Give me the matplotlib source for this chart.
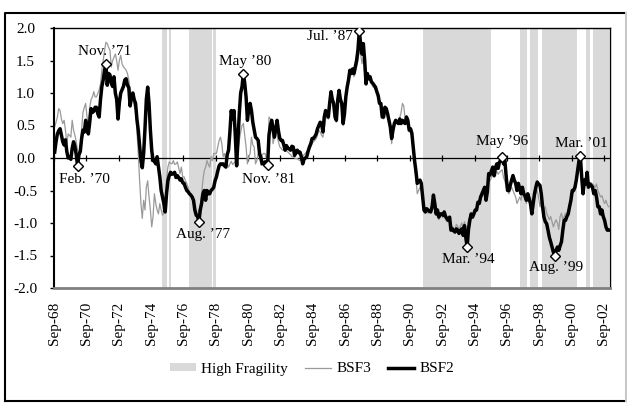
import numpy as np
import pandas as pd
import matplotlib
matplotlib.use('Agg')
import matplotlib.pyplot as plt
from matplotlib.patches import Patch
from matplotlib.lines import Line2D

plt.rcParams['font.family'] = 'serif'
plt.rcParams['font.serif'] = ['Liberation Serif', 'DejaVu Serif']
plt.rcParams['axes.unicode_minus'] = False

# monthly index values, first month Sep-68 (one row = Sep..Aug)
start = '1968-09'
bsf2 = [
    0.09, 0.25, 0.37, 0.42, 0.45, 0.35, 0.25, 0.20, 0.28, 0.10, 0.00, 0.02,
    -0.02, 0.15, 0.25, 0.18, 0.05, -0.12, 0.05, 0.10, 0.30, 0.43, 0.40, 0.58,
    0.45, 0.37, 0.55, 0.76, 0.70, 0.72, 0.78, 0.78, 0.68, 0.63, 0.90, 1.10,
    1.20, 1.35, 1.44, 1.12, 1.30, 1.28, 1.15, 1.10, 1.25, 1.00, 0.90, 0.60,
    0.85, 1.00, 1.05, 1.10, 1.20, 1.22, 1.12, 1.08, 0.80, 0.95, 1.00, 0.90,
    0.84, 0.60, 0.43, 0.20, -0.04, -0.15, 0.07, 0.45, 0.90, 1.09, 0.84, 0.43,
    0.12, -0.04, -0.05, -0.09, 0.02, -0.14, -0.29, -0.50, -0.60, -0.70, -0.83, -0.55,
    -0.35, -0.27, -0.22, -0.25, -0.24, -0.22, -0.30, -0.27, -0.30, -0.34, -0.32, -0.38,
    -0.39, -0.45, -0.50, -0.52, -0.55, -0.57, -0.60, -0.65, -0.80, -0.88, -0.90, -0.98,
    -0.80, -0.70, -0.55, -0.50, -0.65, -0.50, -0.55, -0.55, -0.50, -0.48, -0.45, -0.35,
    -0.29, -0.20, -0.12, -0.09, -0.10, -0.09, -0.12, -0.14, 0.05, 0.12, 0.40, 0.73,
    0.60, 0.73, 0.35, -0.12, 0.30, 0.70, 1.00, 1.10, 1.30, 1.15, 0.94, 0.58,
    0.75, 0.84, 0.73, 0.55, 0.43, 0.32, 0.30, 0.27, 0.07, 0.00, -0.09, -0.08,
    -0.06, -0.06, -0.10, 0.35, 0.50, 0.58, 0.45, 0.32, 0.45, 0.58, 0.42, 0.30,
    0.27, 0.27, 0.20, 0.12, 0.19, 0.15, 0.14, 0.12, 0.18, 0.17, 0.04, 0.10,
    0.12, 0.08, 0.09, 0.02, -0.09, -0.02, 0.00, 0.02, 0.10, 0.17, 0.22, 0.30,
    0.30, 0.33, 0.37, 0.45, 0.50, 0.55, 0.53, 0.40, 0.63, 0.73, 0.68, 0.63,
    0.84, 1.02, 0.90, 0.84, 0.63, 0.58, 0.89, 1.04, 0.90, 0.84, 0.53, 0.68,
    0.94, 1.09, 1.20, 1.35, 1.30, 1.37, 1.30, 1.40, 1.50, 1.66, 1.95, 1.76,
    1.60, 1.76, 1.50, 1.14, 1.30, 1.22, 1.25, 1.17, 1.15, 1.12, 1.09, 1.02,
    0.96, 0.84, 0.84, 0.63, 0.63, 0.78, 0.76, 0.68, 0.58, 0.48, 0.30, 0.43,
    0.53, 0.58, 0.55, 0.53, 0.60, 0.53, 0.58, 0.55, 0.53, 0.63, 0.58, 0.43,
    0.45, 0.38, 0.17, -0.04, -0.20, -0.39, -0.36, -0.34, -0.39, -0.60, -0.80, -0.83,
    -0.78, -0.80, -0.82, -0.83, -0.75, -0.57, -0.70, -0.86, -0.80, -0.91, -0.86, -0.86,
    -0.88, -0.83, -0.90, -0.93, -0.96, -0.91, -1.11, -1.09, -1.12, -1.14, -1.09, -1.11,
    -1.16, -1.12, -1.09, -1.19, -1.04, -1.22, -1.37, -1.10, -0.96, -0.86, -0.91, -0.86,
    -0.80, -0.80, -0.68, -0.70, -0.60, -0.55, -0.50, -0.45, -0.65, -0.52, -0.24, -0.26,
    -0.20, -0.14, -0.27, -0.15, -0.09, -0.16, -0.06, -0.04, 0.02, -0.09, -0.04, -0.29,
    -0.50, -0.50, -0.42, -0.34, -0.27, -0.34, -0.39, -0.50, -0.39, -0.47, -0.55, -0.45,
    -0.55, -0.58, -0.65, -0.55, -0.63, -0.70, -0.86, -0.70, -0.55, -0.45, -0.37, -0.40,
    -0.42, -0.55, -0.75, -0.91, -0.98, -1.01, -1.11, -1.22, -1.29, -1.37, -1.45, -1.50,
    -1.42, -1.37, -1.42, -1.35, -1.29, -1.11, -0.96, -0.96, -0.90, -0.86, -0.75, -0.65,
    -0.50, -0.50, -0.45, -0.34, -0.19, -0.04, 0.03, -0.29, -0.55, -0.34, -0.40, -0.22,
    -0.45, -0.40, -0.42, -0.45, -0.55, -0.50, -0.60, -0.75, -0.75, -0.86, -0.80, -0.90,
    -0.96, -1.06, -1.11, -1.11,
]
bsf3 = [
    0.48, 0.55, 0.63, 0.76, 0.73, 0.60, 0.53, 0.58, 0.43, 0.22, 0.37, 0.35,
    0.32, 0.58, 0.43, 0.35, 0.25, 0.12, 0.07, 0.20, 0.45, 0.70, 0.78, 0.84,
    0.63, 0.55, 0.78, 0.90, 0.94, 1.02, 0.94, 0.94, 0.99, 1.05, 1.14, 1.35,
    1.50, 1.65, 1.78, 1.76, 1.70, 1.66, 1.40, 1.50, 1.55, 1.60, 1.50, 1.35,
    1.50, 1.58, 1.45, 1.40, 1.38, 1.35, 1.30, 1.20, 1.05, 0.96, 0.89, 0.80,
    0.73, 0.43, 0.07, -0.34, -0.70, -0.93, -0.65, -0.80, -0.45, -0.35, -0.60, -0.80,
    -1.06, -0.90, -0.55, -0.70, -0.80, -0.86, -0.70, -0.80, -0.88, -0.85, -0.60, -0.34,
    -0.14, -0.06, -0.08, -0.09, -0.04, -0.10, -0.09, -0.06, -0.15, -0.24, -0.14, -0.29,
    -0.29, -0.35, -0.39, -0.45, -0.55, -0.55, -0.62, -0.70, -0.75, -0.86, -0.86, -0.80,
    -0.75, -0.55, -0.34, -0.19, -0.14, -0.04, -0.10, -0.14, 0.02, -0.04, 0.07, 0.07,
    0.07, 0.17, 0.27, 0.32, 0.22, 0.02, 0.07, -0.04, -0.09, -0.14, -0.09, -0.05,
    -0.10, -0.08, -0.05, -0.04, 0.12, 0.27, 0.40, 0.50, 0.53, 0.35, 0.17, -0.09,
    0.02, 0.07, 0.32, 0.20, 0.17, -0.09, -0.04, 0.07, 0.02, -0.11, 0.05, 0.07,
    0.07, 0.00, -0.09, 0.63, 0.60, 0.58, 0.22, 0.32, 0.43, 0.35, 0.25, 0.17,
    0.15, 0.12, 0.12, 0.10, 0.12, 0.09, 0.07, 0.05, 0.02, 0.02, 0.00, -0.01,
    -0.01, -0.03, -0.04, 0.00, 0.02, 0.05, 0.07, 0.10, 0.12, 0.14, 0.17, 0.22,
    0.25, 0.27, 0.30, 0.35, 0.43, 0.40, 0.35, 0.32, 0.45, 0.60, 0.63, 0.60,
    0.80, 0.95, 0.85, 0.75, 0.60, 0.55, 0.85, 0.98, 0.85, 0.75, 0.50, 0.65,
    0.90, 1.05, 1.15, 1.25, 1.30, 1.32, 1.25, 1.30, 1.40, 1.50, 1.65, 1.60,
    1.45, 1.55, 1.30, 1.15, 1.25, 1.25, 1.20, 1.15, 1.10, 1.08, 1.05, 1.00,
    0.95, 0.85, 0.80, 0.65, 0.60, 0.80, 0.78, 0.70, 0.55, 0.40, 0.22, 0.40,
    0.50, 0.55, 0.55, 0.55, 0.62, 0.70, 0.84, 0.80, 0.60, 0.65, 0.55, 0.40,
    0.42, 0.35, 0.12, -0.10, -0.30, -0.55, -0.50, -0.45, -0.50, -0.65, -0.80, -0.85,
    -0.80, -0.85, -0.80, -0.80, -0.72, -0.60, -0.72, -0.88, -0.85, -0.95, -0.90, -0.85,
    -0.92, -0.85, -0.95, -0.98, -0.95, -0.93, -1.05, -1.05, -1.08, -1.10, -1.02, -1.05,
    -1.10, -1.05, -1.00, -1.08, -0.98, -1.05, -1.10, -0.95, -0.90, -0.85, -0.90, -0.88,
    -0.85, -0.80, -0.72, -0.70, -0.62, -0.60, -0.52, -0.50, -0.60, -0.55, -0.35, -0.35,
    -0.30, -0.25, -0.30, -0.28, -0.20, -0.25, -0.22, -0.20, -0.18, -0.30, -0.35, -0.45,
    -0.50, -0.55, -0.50, -0.45, -0.50, -0.55, -0.60, -0.70, -0.65, -0.60, -0.65, -0.55,
    -0.60, -0.65, -0.70, -0.60, -0.65, -0.60, -0.70, -0.65, -0.60, -0.55, -0.50, -0.60,
    -0.75, -0.65, -0.70, -0.80, -0.75, -0.85, -0.90, -0.95, -0.90, -0.98, -1.06, -1.00,
    -0.95, -1.00, -1.10, -0.90, -0.85, -0.95, -0.90, -0.85, -0.85, -0.80, -0.75, -0.65,
    -0.55, -0.50, -0.40, -0.30, -0.15, -0.12, -0.20, -0.40, -0.45, -0.38, -0.40, -0.35,
    -0.35, -0.40, -0.38, -0.40, -0.42, -0.45, -0.40, -0.50, -0.55, -0.60, -0.58, -0.65,
    -0.70, -0.65, -0.72, -0.75,
]

# high fragility periods (first month, month after last)
fragile = [('1975-05', '1975-09'), ('1975-10', '1975-12'),
           ('1977-01', '1978-06'), ('1978-07', '1978-09'),
           ('1991-07', '1995-09'), ('1997-07', '1997-12'),
           ('1998-02', '1998-08'), ('1998-11', '2001-01'),
           ('2001-08', '2001-11'), ('2002-01', '2003-01')]

# turning points of BSF2
turn_dates = ['1970-02', '1971-11', '1977-08', '1980-05', '1981-11',
              '1987-07', '1994-03', '1996-05', '1999-08', '2001-03']
turn_labels = ["Feb. \u201970", "Nov. \u201971", "Aug. \u201977", "May \u201980",
               "Nov. \u201981", "Jul. \u201987", "Mar. \u201994", "May \u201996",
               "Aug. \u201999", "Mar. \u201901"]

months = pd.period_range(start, periods=len(bsf2), freq='M')
x = np.arange(len(months)) + 0.5


def pos(p):
    return (pd.Period(p, freq='M') - months[0]).n


fig = plt.figure(figsize=(6.27, 4.05), dpi=100, facecolor='white')
ax = fig.add_axes([54 / 627, 1 - 288 / 405, 556 / 627, 260 / 405])

shade = '#d9d9d9'
for a, b in fragile:
    ax.axvspan(pos(a), pos(b), color=shade, lw=0, zorder=0)

ax.axhline(0, color='black', lw=0.9, zorder=1)
ticks = np.arange(0, len(months) + 1, 24)
ax.plot(ticks, np.zeros(len(ticks)), ls='none', marker='|', ms=5,
        mew=0.9, color='black', zorder=1)

ax.plot(x, bsf3, color='#9a9a9a', lw=0.9, zorder=2)
ax.plot(x, bsf2, color='black', lw=2.5, zorder=3)

# offsets of the labels from their points, in points
offsets = [(5, -10), (-1, 9), (3, -9), (1, 9), (1, -11),
           (-21, -4), (1, -9), (0, 11), (1, -9), (1, 9)]
for d, lab, off in zip(turn_dates, turn_labels, offsets):
    i = pos(d)
    ax.plot(x[i], bsf2[i], marker='D', ms=5.5, mfc='white', mec='black',
            mew=1, zorder=4)
    ax.annotate(lab, (x[i], bsf2[i]), xytext=off, textcoords='offset points',
                ha='center', va='center', fontsize=11, zorder=5)

ax.set_xlim(0, len(months) + 0.5)
ax.set_ylim(-2, 2)
ax.set_yticks(np.arange(-2, 2.01, 0.5))
ax.set_yticklabels([f'{v:.1f}' for v in np.arange(-2, 2.01, 0.5)])
ax.set_xticks(ticks[ticks < len(months)])
ax.set_xticklabels([months[t].strftime('%b-%y') for t in ticks[ticks < len(months)]],
                   rotation=90)
ax.tick_params(axis='y', direction='out', length=3, width=1, pad=17.5,
               labelsize=11)
for t in ax.get_yticklabels():
    t.set_ha('center')
ax.tick_params(axis='x', length=0, pad=10, labelsize=11)

for side in ['left', 'top', 'right']:
    ax.spines[side].set_color('black')
ax.spines['left'].set_linewidth(1.5)
ax.spines['top'].set_linewidth(1)
ax.spines['right'].set_linewidth(1)
ax.spines['bottom'].set_color('#808080')
ax.spines['bottom'].set_linewidth(2)

handles = [Patch(facecolor=shade, edgecolor='none'),
           Line2D([], [], color='#9a9a9a', lw=0.9),
           Line2D([], [], color='black', lw=2.5)]
fig.legend(handles, ['High Fragility', 'BSF3', 'BSF2'], loc='center',
           bbox_to_anchor=(312 / 627, 1 - 369 / 405), ncol=3, frameon=False,
           fontsize=11, handlelength=1.7, handleheight=0.5,
           handletextpad=0.35, columnspacing=1.1)

# chart frame: dark on three sides, light on the right
x0, x1 = 5 / 627, 626 / 627
y0, y1 = 4 / 405, 1 - 13 / 405
fig.add_artist(Line2D([x0, x0, x1], [y0, y1, y1], transform=fig.transFigure,
                      color='black', lw=1.5))
fig.add_artist(Line2D([x0, x1], [y0, y0], transform=fig.transFigure,
                      color='black', lw=1.5))
fig.add_artist(Line2D([x1, x1], [y0, y1], transform=fig.transFigure,
                      color='#c8c8c8', lw=1.5))

fig.savefig('out.png', dpi=100)
